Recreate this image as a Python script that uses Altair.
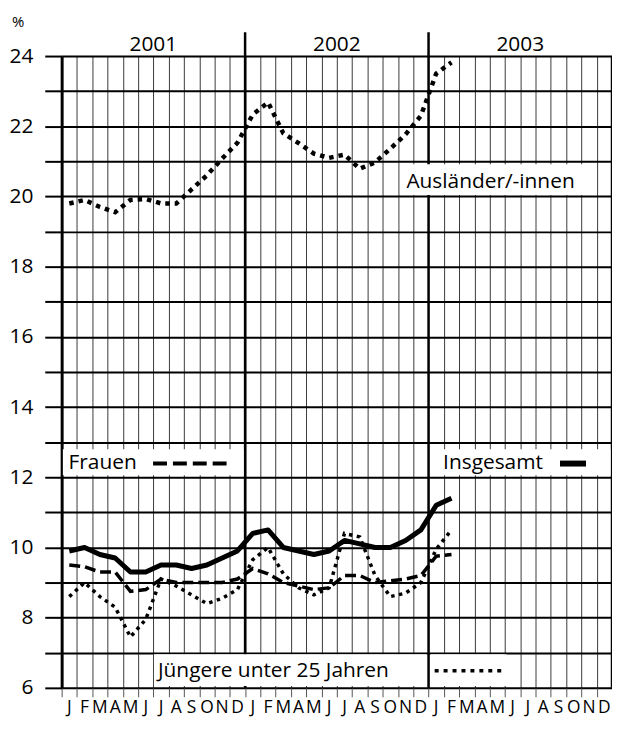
import altair as alt
import pandas as pd

# ---- data ----
month_letters = ["J", "F", "M", "A", "M", "J", "J", "A", "S", "O", "N", "D"] * 3
years = ["2001", "2002", "2003"]
series_names = ["Insgesamt", "Frauen", "Jüngere unter 25 Jahren", "Ausländer/-innen"]

insgesamt = [9.9, 10.0, 9.8, 9.7, 9.3, 9.3, 9.5, 9.5, 9.4, 9.5, 9.7, 9.9,
             10.4, 10.5, 10.0, 9.9, 9.8, 9.9, 10.2, 10.1, 10.0, 10.0, 10.2, 10.5,
             11.2, 11.4]
frauen = [9.5, 9.45, 9.3, 9.3, 8.75, 8.8, 9.1, 9.0, 9.0, 9.0, 9.0, 9.1,
          9.4, 9.25, 9.0, 8.9, 8.8, 8.85, 9.2, 9.2, 9.0, 9.05, 9.1, 9.2,
          9.75, 9.8]
juengere = [8.6, 9.0, 8.6, 8.3, 7.45, 7.95, 9.1, 8.9, 8.65, 8.4, 8.55, 8.8,
            9.65, 10.0, 9.25, 8.85, 8.65, 8.85, 10.4, 10.3, 9.2, 8.6, 8.7, 9.0,
            9.95, 10.5]
auslaender = [19.8, 19.9, 19.7, 19.55, 19.9, 19.93, 19.8, 19.8, 20.2, 20.6, 21.08, 21.53,
              22.33, 22.68, 21.8, 21.52, 21.22, 21.1, 21.19, 20.79, 20.97, 21.36, 21.77, 22.3,
              23.5, 23.82]

W, H = 554, 636
FONT = "Open Sans"

xs = alt.Scale(domain=[0, 36], nice=False, zero=False)
ys = alt.Scale(domain=[6, 24], nice=False, zero=False)

xaxis = alt.Axis(values=list(range(37)), grid=True, gridColor="#3a3a3a", gridWidth=1,
                 ticks=True, tickSize=9, tickColor="#555555", tickWidth=1,
                 labels=False, domain=False, title=None)
yaxis = alt.Axis(values=list(range(6, 25)), grid=True, gridColor="black", gridWidth=2,
                 ticks=True, tickSize=17, tickWidth=2, tickColor="black",
                 labelExpr="datum.value % 2 == 0 ? datum.label : ''",
                 labelFontSize=21, labelFont=FONT, labelColor="black", labelPadding=12,
                 domain=True, domainColor="black", domainWidth=3, title=None)


def X(f):
    return alt.X(f, scale=xs, axis=xaxis)


def Y(f):
    return alt.Y(f, scale=ys, axis=yaxis)


def series_df(vals):
    return pd.DataFrame({"m": [i + 0.5 for i in range(len(vals))], "v": vals})


# year separator lines and borders
year_rules = alt.Chart(pd.DataFrame({"m": [12, 24]})).mark_rule(
    color="black", strokeWidth=2.5).encode(x=X("m:Q"), y=alt.value(-24), y2=alt.value(H))
border_rules = alt.Chart(pd.DataFrame({"m": [36]})).mark_rule(
    color="black", strokeWidth=2.5).encode(x=X("m:Q"), y=alt.value(0), y2=alt.value(H))

# white boxes behind legend texts
boxes = pd.DataFrame({
    "m": [0.08, 24.12, 6.04, 24.14, 22.15],
    "m2": [11.9, 35.9, 23.88, 29.1, 34.2],
    "v": [12.06, 12.06, 6.05, 6.05, 20.04],
    "v2": [12.8, 12.8, 6.96, 6.96, 20.92],
})
box_layer = alt.Chart(boxes).mark_rect(color="white").encode(
    x=X("m:Q"), x2="m2:Q", y=Y("v:Q"), y2="v2:Q")

# legend texts
legend_text = pd.DataFrame({
    "label": ["Frauen", "Insgesamt", "Jüngere unter 25 Jahren", "Ausländer/-innen"],
    "m": [0.45, 24.95, 6.3, 22.55],
    "v": [12.24, 12.24, 6.3, 20.23],
})
text_layer = alt.Chart(legend_text).mark_text(
    align="left", baseline="alphabetic", font=FONT, fontSize=21, color="black").encode(
    x=X("m:Q"), y=Y("v:Q"), text="label:N")

# legend samples
s_frauen = alt.Chart(pd.DataFrame({"m": [5.98], "m2": [11.1], "v": [12.39]})).mark_rule(
    color="black", strokeWidth=4, strokeDash=[14, 6]).encode(x=X("m:Q"), x2="m2:Q", y=Y("v:Q"))
s_ins = alt.Chart(pd.DataFrame({"m": [32.6], "m2": [34.3], "v": [12.39]})).mark_rule(
    color="black", strokeWidth=6).encode(x=X("m:Q"), x2="m2:Q", y=Y("v:Q"))
s_jung = alt.Chart(pd.DataFrame({"m": [24.4], "m2": [28.9], "v": [6.49]})).mark_rule(
    color="black", strokeWidth=3.5, strokeDash=[4, 5]).encode(x=X("m:Q"), x2="m2:Q", y=Y("v:Q"))

# series lines
l_ins = alt.Chart(series_df(insgesamt)).mark_line(
    color="black", strokeWidth=5, strokeJoin="round").encode(x=X("m:Q"), y=Y("v:Q"))
l_fr = alt.Chart(series_df(frauen)).mark_line(
    color="black", strokeWidth=3.5, strokeDash=[11, 5]).encode(x=X("m:Q"), y=Y("v:Q"))
l_ju = alt.Chart(series_df(juengere)).mark_line(
    color="black", strokeWidth=3.5, strokeDash=[3.5, 4.5]).encode(x=X("m:Q"), y=Y("v:Q"))
l_au = alt.Chart(series_df(auslaender)).mark_line(
    color="black", strokeWidth=4.5, strokeDash=[4.5, 5]).encode(x=X("m:Q"), y=Y("v:Q"))

# month labels & year labels
months_df = pd.DataFrame({"m": [i + 0.5 for i in range(36)], "label": month_letters})
month_layer = alt.Chart(months_df).mark_text(
    align="center", baseline="alphabetic", font=FONT, fontSize=17.5, color="black").encode(
    x=X("m:Q"), y=alt.value(661), text="label:N")

years_df = pd.DataFrame({"m": [6, 18, 30], "label": years})
year_layer = alt.Chart(years_df).mark_text(
    align="center", baseline="alphabetic", font=FONT, fontSize=21, color="black").encode(
    x=X("m:Q"), y=alt.value(-5), text="label:N")

pct = alt.Chart(pd.DataFrame({"label": ["%"]})).mark_text(
    align="left", baseline="alphabetic", font=FONT, fontSize=15, color="black").encode(
    x=alt.value(-50), y=alt.value(-29), text="label:N")

chart = alt.layer(
    year_rules, border_rules, box_layer, text_layer, s_frauen, s_ins, s_jung,
    l_au, l_fr, l_ju, l_ins, month_layer, year_layer, pct
).properties(
    width=W, height=H,
    autosize=alt.AutoSizeParams(type="none"),
    padding={"left": 54, "top": 46, "right": 0, "bottom": 31},
).configure_view(strokeWidth=0)

chart.save("out.html", embed_options={"renderer": "svg", "actions": False})
